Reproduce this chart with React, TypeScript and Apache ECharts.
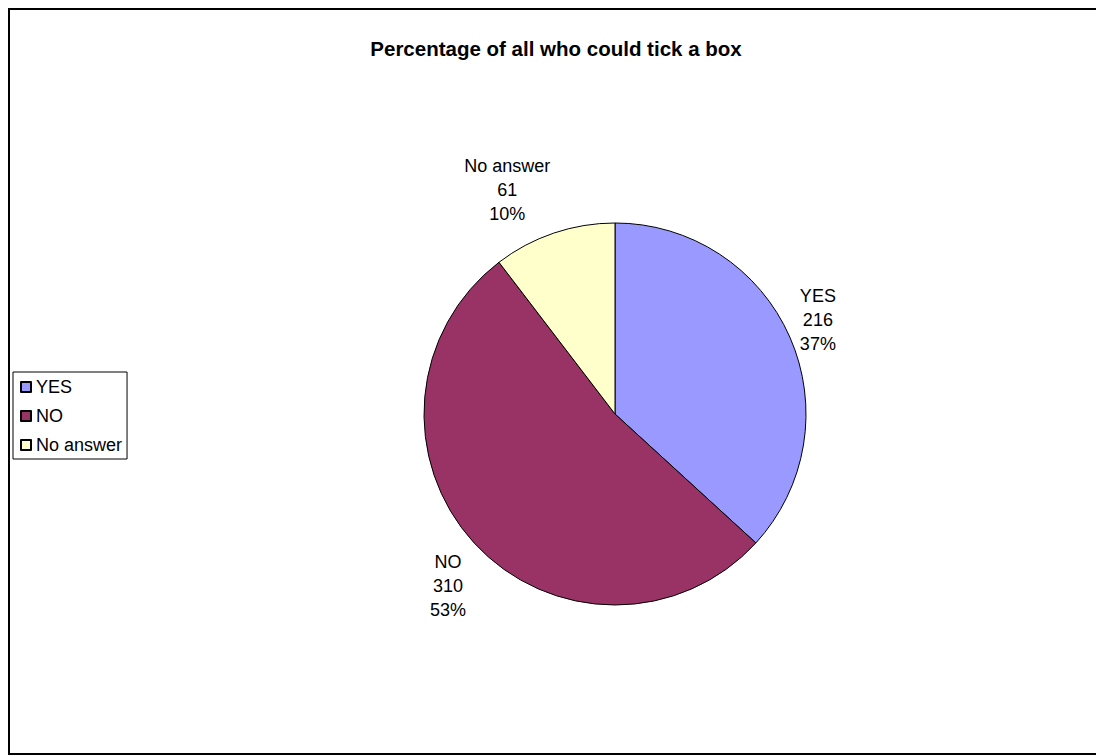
import React, { useEffect, useRef } from "react";
import * as echarts from "echarts";

const categories = ["YES", "NO", "No answer"];
const values = [216, 310, 61];
const colors = ["#9999FF", "#993366", "#FFFFCC"];
const titleText = "Percentage of all who could tick a box";

const CX = 615;
const CY = 414;
const RADIUS = 191;
const LABEL_GAP = 11;
const LABEL_DY = 3;
const FONT = "'Liberation Sans', Arial, sans-serif";

export default function App() {
  const ref = useRef<HTMLDivElement>(null);

  useEffect(() => {
    if (!ref.current) return;
    const chart = echarts.init(ref.current, undefined, { renderer: "svg" });
    const total = values.reduce((a, b) => a + b, 0);

    chart.setOption({
      animation: false,
      backgroundColor: "#ffffff",
      title: {
        text: titleText,
        left: 556,
        top: 38,
        padding: 0,
        textAlign: "center",
        textStyle: { fontFamily: FONT, fontSize: 20.5, fontWeight: "bold", color: "#000" },
      },
      legend: {
        orient: "vertical",
        left: 13,
        top: 372,
        padding: [6, 5, 5, 7],
        itemGap: 11,
        itemWidth: 10,
        itemHeight: 10,
        borderColor: "#000",
        borderWidth: 1,
        icon: "rect",
        data: categories,
        textStyle: { fontFamily: FONT, fontSize: 18, color: "#000" },
      },
      series: [
        {
          type: "pie",
          center: [CX, CY],
          radius: RADIUS,
          startAngle: 90,
          clockwise: true,
          avoidLabelOverlap: false,
          itemStyle: { borderColor: "#000", borderWidth: 1 },
          emphasis: { disabled: true },
          label: {
            show: true,
            position: "outside",
            color: "#000",
            fontFamily: FONT,
            fontSize: 18,
            lineHeight: 24,
            formatter: (p: any) => `${p.name}\n${p.value}\n${Math.round(p.percent)}%`,
          },
          labelLine: { show: false },
          labelLayout: (p: any) => {
            let before = 0;
            for (let i = 0; i < p.dataIndex; i++) before += values[i];
            const mid = ((before + values[p.dataIndex] / 2) / total) * Math.PI * 2;
            const ux = Math.sin(mid);
            const uy = -Math.cos(mid);
            const ax = CX + (RADIUS + LABEL_GAP) * ux;
            const ay = CY + (RADIUS + LABEL_GAP) * uy;
            const w = p.labelRect.width;
            const h = p.labelRect.height;
            const fy = Math.min(1, Math.abs(uy) / Math.max(1e-6, Math.abs(ux)));
            return {
              x: ax + Math.sign(ux) * (w / 2),
              y: ay + Math.sign(uy) * (h / 2) * fy + LABEL_DY,
              align: "center",
              verticalAlign: "middle",
            };
          },
          data: categories.map((name, i) => ({
            name,
            value: values[i],
            itemStyle: { color: colors[i] },
          })),
        },
      ],
    });

    return () => chart.dispose();
  }, []);

  return (
    <div style={{ position: "fixed", left: 0, top: 0, width: 1096, height: 756, overflow: "hidden", background: "#fff" }}>
      <div ref={ref} style={{ position: "absolute", left: 0, top: 0, width: 1096, height: 756 }} />
      <div
        style={{
          position: "absolute",
          left: 8,
          top: 8,
          width: 1200,
          height: 747,
          boxSizing: "border-box",
          border: "2px solid #000",
          pointerEvents: "none",
        }}
      />
    </div>
  );
}
